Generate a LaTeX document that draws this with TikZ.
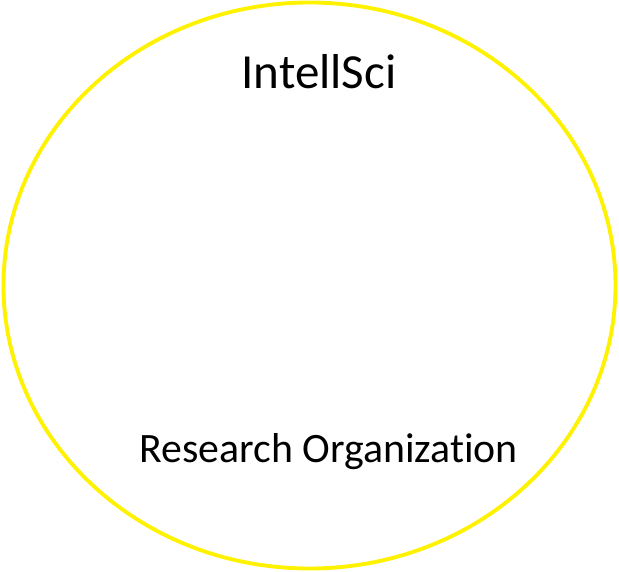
\documentclass[tikz,border=0pt]{standalone}
\usepackage{fontspec}
\setmainfont[RawFeature={-liga,-clig}]{Carlito}
\usepackage{xcolor}
\newcommand{\PicWidth}{12.38}
\newcommand{\PicHeight}{11.42}
\newcommand{\XCenter}{6.19}
\newcommand{\YCenter}{5.71}
\colorlet{RingColor}{yellow}

\begin{document}
\begin{tikzpicture}[
  title/.style={font=\fontsize{27.9}{30}\selectfont,anchor=base,inner sep=0pt},
  label/.style={font=\fontsize{23.8}{26}\selectfont,anchor=base,inner sep=0pt},
  ring/.style={draw=RingColor,line width=2.2pt}
]
\useasboundingbox (0,0) rectangle (\PicWidth,\PicHeight);

% Outer ellipse
\draw[ring] (\XCenter,\YCenter) ellipse [x radius=6.12, y radius=5.66];

% Labels
\node[title] (intellsci) at (6.38,9.66) {IntellSci};
\node[label] (research) at (6.57,2.18) {Research Organizat\kern0pt ion};

\end{tikzpicture}
\end{document}
